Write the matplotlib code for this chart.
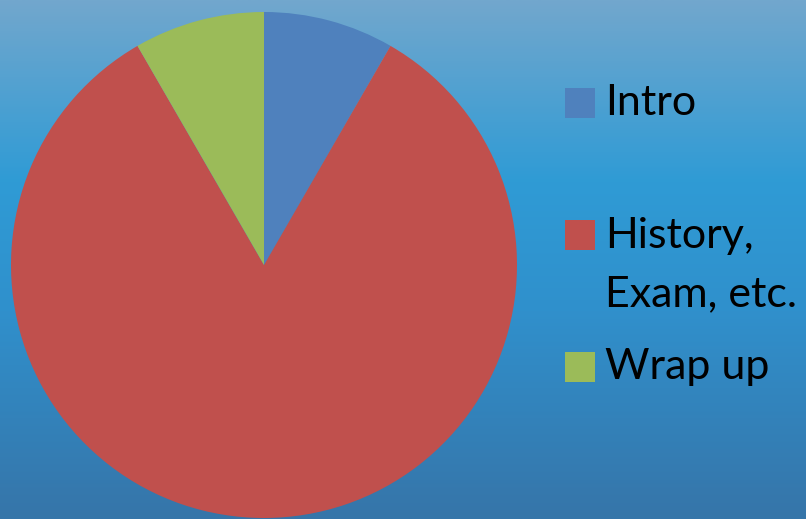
import numpy as np
import matplotlib.pyplot as plt
from matplotlib.colors import LinearSegmentedColormap
from matplotlib.patches import Rectangle

labels = ['Intro', 'History,\nExam, etc.', 'Wrap up']
values = [5, 50, 5]
colors = ['#4f81bd', '#c0504d', '#9bbb59']

fig = plt.figure(figsize=(8.06, 5.19), dpi=100)

# gradient background
bg = fig.add_axes([0, 0, 1, 1])
bg_cmap = LinearSegmentedColormap.from_list(
    'bg', [(0.0, '#72a7cd'), (0.35, '#2f9bd5'), (0.6, '#3090cc'), (1.0, '#3675a9')])
bg.imshow(np.linspace(0, 1, 256).reshape(-1, 1), aspect='auto', cmap=bg_cmap,
          extent=[0, 1, 1, 0])
bg.axis('off')

# pie: centre (264, 265) px, radius 253 px
r = 253
ax = fig.add_axes([(264 - r) / 806, (519 - 265 - r) / 519, 2 * r / 806, 2 * r / 519])
ax.pie(values, colors=colors, startangle=90, counterclock=False,
       wedgeprops=dict(linewidth=0))
ax.set_xlim(-1, 1)
ax.set_ylim(-1, 1)
ax.set_aspect('auto')
ax.axis('off')

# legend
font = dict(family='Lato', size=31, color='black')
ys = [103, 235, 367]
for lab, col, y in zip(labels, colors, ys):
    fig.patches.append(Rectangle((565 / 806, (519 - y - 15) / 519), 30 / 806, 30 / 519,
                                 transform=fig.transFigure, facecolor=col, edgecolor='none'))
    if '\n' in lab:
        fig.text(605 / 806, (519 - y + 18) / 519, lab, va='top', ha='left',
                 linespacing=1.66, **font)
    else:
        fig.text(605 / 806, (519 - y) / 519, lab, va='center', ha='left', **font)

fig.savefig('out.png', dpi=100)
